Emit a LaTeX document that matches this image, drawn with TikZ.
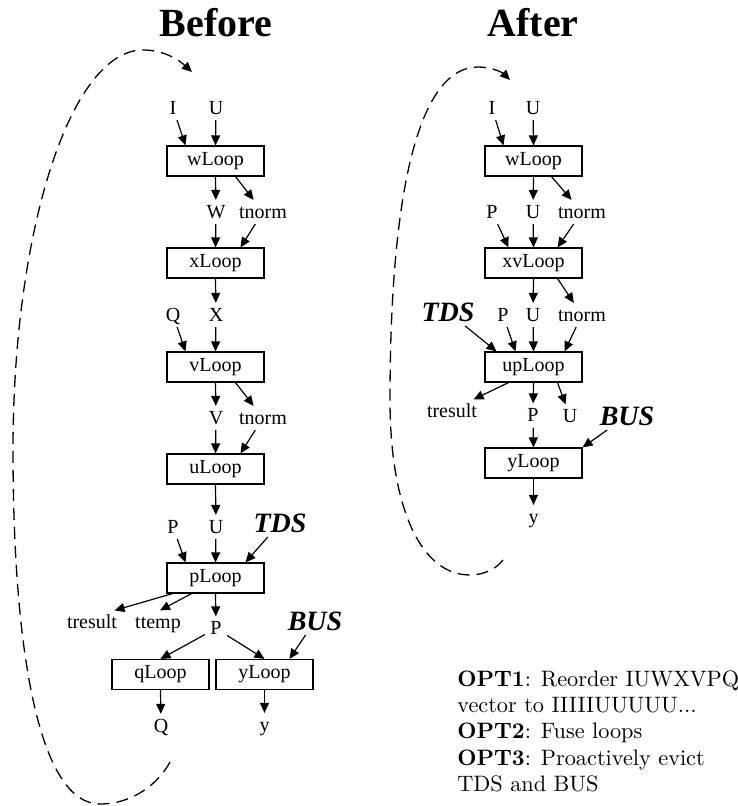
\documentclass[tikz,border=0pt]{standalone}
\usepackage{fontspec}
\newfontfamily\timesfont{Liberation Serif}
\usetikzlibrary{arrows.meta}

\begin{document}
\begin{tikzpicture}[x=1pt, y=1pt, >={Triangle[length=10pt,width=9pt]}, line width=1.2pt,
    loopbox/.style={draw, minimum width=97pt, minimum height=30pt, inner sep=0pt, font=\timesfont\fontsize{20}{24}\selectfont},
    var/.style={inner sep=5pt, text height=13pt, text depth=0pt, font=\timesfont\fontsize{20}{24}\selectfont},
    evict/.style={inner sep=4pt, font=\timesfont\bfseries\itshape\fontsize{28}{32}\selectfont},
    heading/.style={anchor=base, font=\timesfont\bfseries\fontsize{40}{44}\selectfont},
    reuse/.style={dash pattern=on 12pt off 7pt, line width=1.3pt},
    optnote/.style={anchor=north west, inner sep=0pt, align=left, scale=2.23, font=\fontsize{10}{11.75}\selectfont}]
    \useasboundingbox (0,0) rectangle (738,806);

    \node[heading] (before) at (216,769) {Before};
    \node[heading] (after) at (533,769) {After};

    \node[loopbox] (bw) at (215.5,645) {wLoop};
    \node[loopbox] (bx) at (215.5,543) {xLoop};
    \node[loopbox] (bv) at (215.5,439) {vLoop};
    \node[loopbox] (bu) at (215.5,337) {uLoop};
    \node[loopbox] (bp) at (215.5,228) {pLoop};
    \node[loopbox] (bq) at (160.5,131.5) {qLoop};
    \node[loopbox] (by) at (264.5,131.5) {yLoop};

    \node[var] (bI) at (173,698) {I};
    \node[var] (bU) at (216,698) {U};
    \node[var] (bW) at (216,594) {W};
    \node[var] (btnw) at (263,594) {tnorm};
    \node[var] (bQ) at (173,491) {Q};
    \node[var] (bX) at (216,491) {X};
    \node[var] (bV) at (216,388) {V};
    \node[var] (btnv) at (263,388) {tnorm};
    \node[var] (bP) at (173,279) {P};
    \node[var] (bUp) at (216,279) {U};
    \node[evict] (btds) at (280,283) {TDS};
    \node[var] (btres) at (92,183.5) {tresult};
    \node[var] (bttemp) at (158,183.5) {ttemp};
    \node[var] (bPo) at (216,177.5) {P};
    \node[evict] (bbus) at (315,185) {BUS};
    \node[var] (bQo) at (161,80) {Q};
    \node[var] (byo) at (264.5,81) {y};

    \draw[->] (bI) -- ([xshift=-30pt]bw.north);
    \draw[->] (bU) -- (bw.north);
    \draw[->] (bw.south) -- (bW);
    \draw[->] ([xshift=20pt]bw.south) -- (btnw);
    \draw[->] (bW) -- (bx.north);
    \draw[->] (btnw) -- ([xshift=25pt]bx.north);
    \draw[->] (bx.south) -- (bX);
    \draw[->] (bQ) -- ([xshift=-30pt]bv.north);
    \draw[->] (bX) -- (bv.north);
    \draw[->] (bv.south) -- (bV);
    \draw[->] ([xshift=20pt]bv.south) -- (btnv);
    \draw[->] (bV) -- (bu.north);
    \draw[->] (btnv) -- ([xshift=25pt]bu.north);
    \draw[->] (bu.south) -- (bUp);
    \draw[->] (bP) -- ([xshift=-30pt]bp.north);
    \draw[->] (bUp) -- (bp.north);
    \draw[->] (btds) -- ([xshift=30pt]bp.north);
    \draw[->] ([xshift=-43pt]bp.south) -- ([xshift=-8pt]btres.north east);
    \draw[->] ([xshift=-24pt]bp.south) -- ([xshift=2pt]bttemp.north);
    \draw[->] (bp.south) -- (bPo);
    \draw[->] (bPo) -- (bq.north);
    \draw[->] (bPo) -- (by.north);
    \draw[->] (bbus) -- ([xshift=25pt]by.north);
    \draw[->] (bq.south) -- (bQo);
    \draw[->] (by.south) -- (byo);

    \node[loopbox] (aw) at (533.5,645) {wLoop};
    \node[loopbox] (axv) at (533.5,543) {xvLoop};
    \node[loopbox] (aup) at (533.5,439) {upLoop};
    \node[loopbox] (ay) at (533.5,343) {yLoop};

    \node[var] (aI) at (492,698) {I};
    \node[var] (aU) at (533,698) {U};
    \node[var] (aP) at (492,594) {P};
    \node[var] (aUw) at (533,594) {U};
    \node[var] (atnw) at (582,594) {tnorm};
    \node[evict] (atds) at (448,494) {TDS};
    \node[var] (aPx) at (503,491) {P};
    \node[var] (aUx) at (533,491) {U};
    \node[var] (atnx) at (582,491) {tnorm};
    \node[var] (atres) at (452,394.5) {tresult};
    \node[var] (aPo) at (533,390.5) {P};
    \node[var] (aUo) at (570,389.5) {U};
    \node[evict] (abus) at (627,390) {BUS};
    \node[var] (ayo) at (533.5,289) {y};

    \draw[->] (aI) -- ([xshift=-30pt]aw.north);
    \draw[->] (aU) -- (aw.north);
    \draw[->] (aw.south) -- (aUw);
    \draw[->] ([xshift=18pt]aw.south) -- (atnw);
    \draw[->] (aP) -- ([xshift=-25pt]axv.north);
    \draw[->] (aUw) -- (axv.north);
    \draw[->] (atnw) -- ([xshift=24pt]axv.north);
    \draw[->] (axv.south) -- (aUx);
    \draw[->] ([xshift=24pt]axv.south) -- (atnx);
    \draw[->] (atds) -- ([xshift=-37pt]aup.north);
    \draw[->] (aPx) -- ([xshift=-18pt]aup.north);
    \draw[->] (aUx) -- (aup.north);
    \draw[->] (atnx) -- ([xshift=31pt]aup.north);
    \draw[->] ([xshift=-25pt]aup.south) -- ([xshift=-9pt]atres.north east);
    \draw[->] (aup.south) -- (aPo);
    \draw[->] ([xshift=24pt]aup.south) -- (aUo);
    \draw[->] (aPo) -- (ay.north);
    \draw[->] (abus) -- (ay.north east);
    \draw[->] (ay.south) -- (ayo);

    \coordinate (bfrom) at (170,44);
    \coordinate (bto) at (192,734);
    \draw[reuse, ->] (bfrom) .. controls (160,25) and (135,2) .. (100,2)
        .. controls (40,2) and (13,150) .. (13,356)
        .. controls (13,577) and (71,756) .. (143,756)
        .. controls (165,756) and (180,745) .. (bto);

    \coordinate (afrom) at (503,246);
    \coordinate (ato) at (510,726);
    \draw[reuse, ->] (afrom) .. controls (497,238) and (485,231) .. (470,231)
        .. controls (420,231) and (390,300) .. (390,406)
        .. controls (390,620) and (420,739) .. (478,739)
        .. controls (492,739) and (503,733) .. (ato);

    \node[optnote] (opts) at (456,136.5) {\textbf{OPT1}: Reorder IUWXVPQ\\vector to IIIIIUUUUU...\\\textbf{OPT2}: Fuse loops\\\textbf{OPT3}: Proactively evict\\TDS and BUS};
\end{tikzpicture}
\end{document}
